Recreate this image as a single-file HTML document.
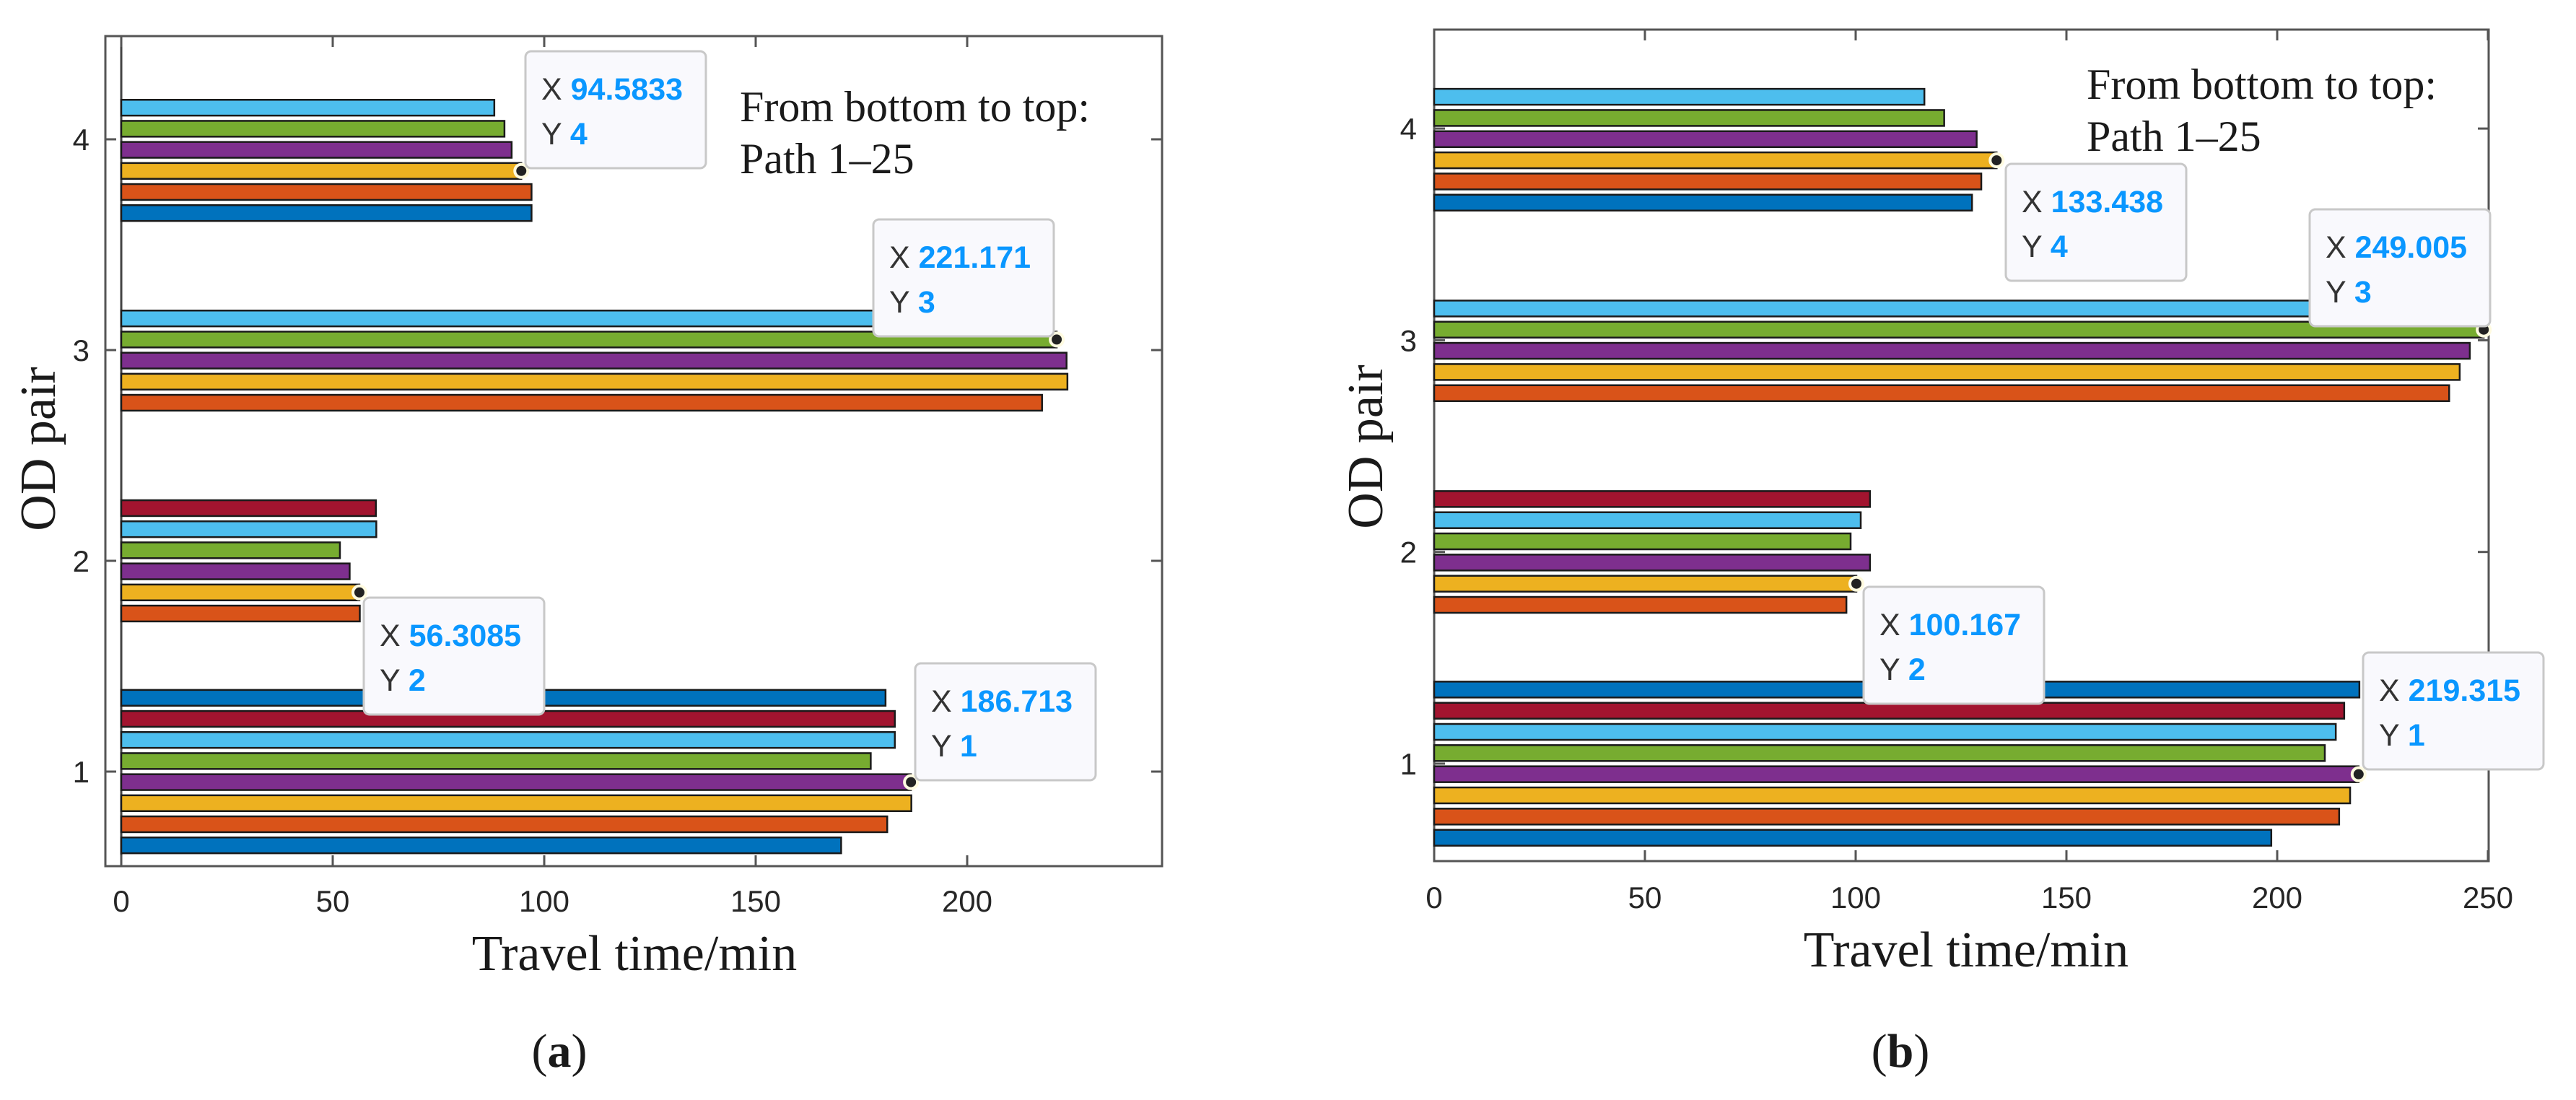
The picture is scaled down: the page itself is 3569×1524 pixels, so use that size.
<!DOCTYPE html>
<html><head><meta charset="utf-8"><style>
html,body{margin:0;padding:0;background:#fff}
svg{display:block}
.tick{font-family:"Liberation Sans",sans-serif;font-size:42px;fill:#262626}
.serif{font-family:"Liberation Serif",serif;fill:#1a1a1a}
.dtx{font-family:"Liberation Sans",sans-serif;font-size:43px}
</style></head><body>
<svg id="fig" width="3569" height="1524" viewBox="0 0 3569 1524" xmlns="http://www.w3.org/2000/svg"></svg>
<script>
// Shared categories and colours
const odPairs = [1, 2, 3, 4];
const pathColors = ["#0072BD","#D95319","#EDB120","#7E2F8E","#77AC30","#4DBEEE","#A2142F","#0072BD"];
const ticksA = [0, 50, 100, 150, 200];
const ticksB = [0, 50, 100, 150, 200, 250];
// Panel (a) values: per OD pair, 8 slots (null = no bar)
const valuesA1 = [170.2, 181.1, 186.8, 186.713, 177.2, 182.9, 182.9, 180.7];
const valuesA2 = [null, 56.4, 56.3085, 54.0, 51.7, 60.3, 60.2, null];
const valuesA3 = [null, 217.7, 223.7, 223.5, 221.171, 219.0, null, null];
const valuesA4 = [97.0, 97.0, 94.5833, 92.3, 90.6, 88.2, null, null];
// Panel (b) values
const valuesB1 = [198.6, 214.7, 217.3, 219.315, 211.3, 213.9, 215.9, 219.5];
const valuesB2 = [null, 97.8, 100.167, 103.4, 98.8, 101.2, 103.4, null];
const valuesB3 = [null, 240.8, 243.3, 245.7, 249.005, 247.5, null, null];
const valuesB4 = [127.6, 129.8, 133.438, 128.7, 121.0, 116.3, null, null];
// Data tips: [x value, od pair, slot]
const tipsA = [[94.5833,4,2],[221.171,3,4],[56.3085,2,2],[186.713,1,3]];
const tipsB = [[133.438,4,2],[249.005,3,4],[100.167,2,2],[219.315,1,3]];

const NS = "http://www.w3.org/2000/svg";
const svg = document.getElementById('fig');
function mk(tag, attrs, parent, text){
  const e = document.createElementNS(NS, tag);
  for (const k in attrs) e.setAttribute(k, attrs[k]);
  if (text !== undefined) e.textContent = text;
  (parent || svg).appendChild(e);
  return e;
}

function panel(cfg){
  const g = mk('g', {});
  
  
  const X = v => cfg.x0 + v * cfg.sx;          // x axis function
  const Y = v => cfg.y1 - (v - 1) * cfg.sy;     // y axis function (od value)
  const slotY = (od, k) => Y(od + (k - 3.5) * 0.1); // slot 0 lowest
  const barH = 0.075 * cfg.sy;
  // axes box
  const box = mk('rect', {x:cfg.bl, y:cfg.bt, width:cfg.br-cfg.bl, height:cfg.bb-cfg.bt, fill:'#fff', stroke:'#555', 'stroke-width':3}, g);
  
  
  // zero baseline
  if (cfg.bl < X(0) - 2) {
    const zl = mk('line', {x1:X(0), x2:X(0), y1:cfg.bt, y2:cfg.bb, stroke:'#444', 'stroke-width':3}, g);
    
    
  }
  // x ticks
  cfg.ticks.forEach(t => {
    const x = X(t);
    mk('line', {x1:x, x2:x, y1:cfg.bb, y2:cfg.bb-15, stroke:'#555', 'stroke-width':3}, g);
    mk('line', {x1:x, x2:x, y1:cfg.bt, y2:cfg.bt+15, stroke:'#555', 'stroke-width':3}, g);
    const tl = mk('text', {x:x, y:cfg.tickY, 'text-anchor':'middle', class:'tick'}, g, String(t));
    
    
  });
  // y ticks
  odPairs.forEach(o => {
    const y = Y(o);
    mk('line', {x1:cfg.bl, x2:cfg.bl+15, y1:y, y2:y, stroke:'#555', 'stroke-width':3}, g);
    mk('line', {x1:cfg.br, x2:cfg.br-15, y1:y, y2:y, stroke:'#555', 'stroke-width':3}, g);
    const tl = mk('text', {x:cfg.ytickX, y:y+15, 'text-anchor':'end', class:'tick'}, g, String(o));
    
    
  });
  // bars
  cfg.series.forEach((arr, i) => {
    const od = odPairs[i];
    arr.forEach((v, k) => {
      if (v === null) return;
      const cy = slotY(od, k);
      const r = mk('rect', {x:X(0), y:cy-barH/2, width:X(v)-X(0), height:barH, fill:pathColors[k], stroke:'#1a1a1a', 'stroke-width':2.5}, g);
      
      
    });
  });
  // data tips
  cfg.tips.forEach((tp, i) => {
    const [v, od, k] = tp;
    const px = X(v), py = slotY(od, k);
    const d = mk('circle', {cx:px, cy:py, r:9, fill:'#222', stroke:'#fffbe0', 'stroke-width':4}, g);
    
    
    const c = cfg.boxes[i];
    const bx = mk('rect', {x:c[0], y:c[1], width:250, height:162, rx:8, fill:'#f9f9fd', stroke:'#c8c8c8', 'stroke-width':3}, g);
    
    
    const t1 = mk('text', {x:c[0]+22, y:c[1]+67, class:'dtx'}, g);
    
    
    mk('tspan', {fill:'#333'}, t1, 'X ');
    mk('tspan', {fill:'#0a97ff', 'font-weight':'bold'}, t1, String(v));
    const t2 = mk('text', {x:c[0]+22, y:c[1]+129, class:'dtx'}, g);
    
    
    mk('tspan', {fill:'#333'}, t2, 'Y ');
    mk('tspan', {fill:'#0a97ff', 'font-weight':'bold'}, t2, String(od));
  });
  // annotation
  const an = mk('text', {x:cfg.annX, y:cfg.annY, class:'serif', 'font-size':60}, g, 'From bottom to top:');
  
  
  const an2 = mk('text', {x:cfg.annX, y:cfg.annY+72, class:'serif', 'font-size':60}, g, 'Path 1–25');
  
  
  // axis titles
  const xt = mk('text', {x:cfg.xlabX, y:cfg.xlabY, 'text-anchor':'middle', class:'serif', 'font-size':70}, g, 'Travel time/min');
  
  
  const yt = mk('text', {x:0, y:0, 'text-anchor':'middle', class:'serif', 'font-size':70, transform:'translate('+cfg.ylabX+','+cfg.ylabY+') rotate(-90)'}, g, 'OD pair');
  
  
  const cap = mk('text', {x:cfg.capX, y:1478, 'text-anchor':'middle', class:'serif', 'font-size':66}, g);
  
  
  mk('tspan', {}, cap, '(');
  mk('tspan', {'font-weight':'bold'}, cap, cfg.letter);
  mk('tspan', {}, cap, ')');
}

panel({name:'panel-a', letter:'a', x0:168, sx:5.86, y1:1069, sy:292,
  bl:146, br:1610, bt:50, bb:1200, ticks:ticksA, tickY:1263, ytickX:124,
  series:[valuesA1, valuesA2, valuesA3, valuesA4], tips:tipsA,
  boxes:[[728,71],[1210,304],[504,828],[1268,919]],
  annX:1025, annY:168, xlabX:879, xlabY:1344, ylabX:76, ylabY:622, capX:775});

panel({name:'panel-b', letter:'b', x0:1987, sx:5.84, y1:1058, sy:293.3,
  bl:1987, br:3448, bt:41, bb:1193, ticks:ticksB, tickY:1258, ytickX:1963,
  series:[valuesB1, valuesB2, valuesB3, valuesB4], tips:tipsB,
  boxes:[[2779,227],[3200,290],[2582,813],[3274,904]],
  annX:2891, annY:137, xlabX:2724, xlabY:1339, ylabX:1915, ylabY:619, capX:2633});
</script>
</body></html>
